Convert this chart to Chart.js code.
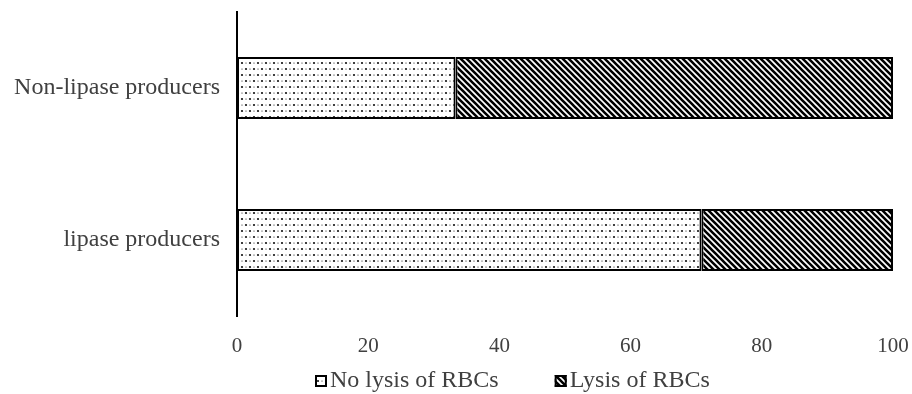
<!DOCTYPE html>
<html>
<head>
<meta charset="utf-8">
<script src="https://cdn.jsdelivr.net/npm/chart.js@4"></script>
<style>
  html, body { margin: 0; padding: 0; background: #fff; }
  #wrap { width: 912px; height: 394px; }
</style>
</head>
<body>
<div id="wrap"><canvas id="hemolysisChart"></canvas></div>
<script>
const groups = ['Non-lipase producers', 'lipase producers']
const noLysis = [33.3, 70.8]
const lysis = [66.7, 29.2]
const xTicks = [0, 20, 40, 60, 80, 100]

const serif = '"Liberation Serif", "Times New Roman", serif'
const textColor = '#404040'

// dotted fill, big and small dots alternating
const makeDots = () => {
    const c = document.createElement('canvas')
    c.width = 8
    c.height = 12
    const g = c.getContext('2d')
    g.fillStyle = '#fff'
    g.fillRect(0, 0, 8, 12)
    g.fillStyle = '#111'
    const dot = (x, y, r) => {
        g.beginPath()
        g.arc(x, y, r, 0, Math.PI * 2)
        g.fill()
    }
    dot(2, 3, 1.1)
    dot(6, 9, 1.1)
    dot(6, 3, 0.6)
    dot(2, 9, 0.6)
    return g.createPattern(c, 'repeat')
}

// diagonal hatch, top-left to bottom-right
const makeHatch = () => {
    const s = 6
    const c = document.createElement('canvas')
    c.width = s
    c.height = s
    const g = c.getContext('2d')
    g.fillStyle = '#fff'
    g.fillRect(0, 0, s, s)
    g.strokeStyle = '#000'
    g.lineWidth = 2.6
    g.beginPath()
    g.moveTo(-1, -1); g.lineTo(s + 1, s + 1)
    g.moveTo(-2, s - 2); g.lineTo(2, s + 2)
    g.moveTo(s - 2, -2); g.lineTo(s + 2, 2)
    g.stroke()
    return g.createPattern(c, 'repeat')
}

// legend drawn under the axis, Excel style (small box, text right next to it)
const bottomLegend = {
    id: 'bottomLegend',
    afterDraw: (chart) => {
        const c = chart.ctx
        const y = 381
        let x = 315
        c.save()
        c.font = '24px ' + serif
        c.textBaseline = 'middle'
        c.textAlign = 'left'
        chart.data.datasets.forEach((ds) => {
            c.fillStyle = ds.backgroundColor
            c.fillRect(x, y - 6, 12, 12)
            c.strokeStyle = '#000'
            c.lineWidth = 2
            c.strokeRect(x + 1, y - 5, 10, 10)
            c.fillStyle = textColor
            c.fillText(ds.label, x + 15, y)
            x += 15 + c.measureText(ds.label).width + 56
        })
        c.restore()
    }
}

const ctx = document.getElementById('hemolysisChart')

new Chart(ctx, {
    type: 'bar',
    data: {
        labels: groups,
        datasets: [{
            label: 'No lysis of RBCs',
            data: noLysis,
            backgroundColor: makeDots(),
            borderColor: '#000',
            borderWidth: 2,
            borderSkipped: false
        }, {
            label: 'Lysis of RBCs',
            data: lysis,
            backgroundColor: makeHatch(),
            borderColor: '#000',
            borderWidth: 2,
            borderSkipped: false
        }]
    },
    options: {
        indexAxis: 'y',
        responsive: true,
        maintainAspectRatio: false,
        animation: false,
        categoryPercentage: 0.8,
        barPercentage: 0.51,
        layout: {
            padding: { left: 0, right: 19, top: 12, bottom: 0 }
        },
        scales: {
            x: {
                stacked: true,
                min: 0,
                max: 100,
                afterBuildTicks: (scale) => {
                    scale.ticks = xTicks.map(v => ({ value: v }))
                },
                afterFit: (scale) => {
                    scale.height = 78
                    scale.paddingLeft = 0
                    scale.paddingRight = 0
                },
                grid: { display: false, drawTicks: false },
                border: { display: false },
                ticks: {
                    padding: 18,
                    color: textColor,
                    font: { family: serif, size: 21 }
                }
            },
            y: {
                stacked: true,
                afterFit: (scale) => {
                    scale.width = 237
                    scale.paddingTop = 0
                    scale.paddingBottom = 0
                },
                grid: { display: false, drawTicks: false },
                border: { display: true, color: '#000', width: 2 },
                ticks: {
                    padding: 17,
                    color: textColor,
                    font: { family: serif, size: 24 }
                }
            }
        },
        plugins: {
            tooltip: { enabled: false },
            legend: { display: false }
        }
    },
    plugins: [bottomLegend]
})
</script>
</body>
</html>
